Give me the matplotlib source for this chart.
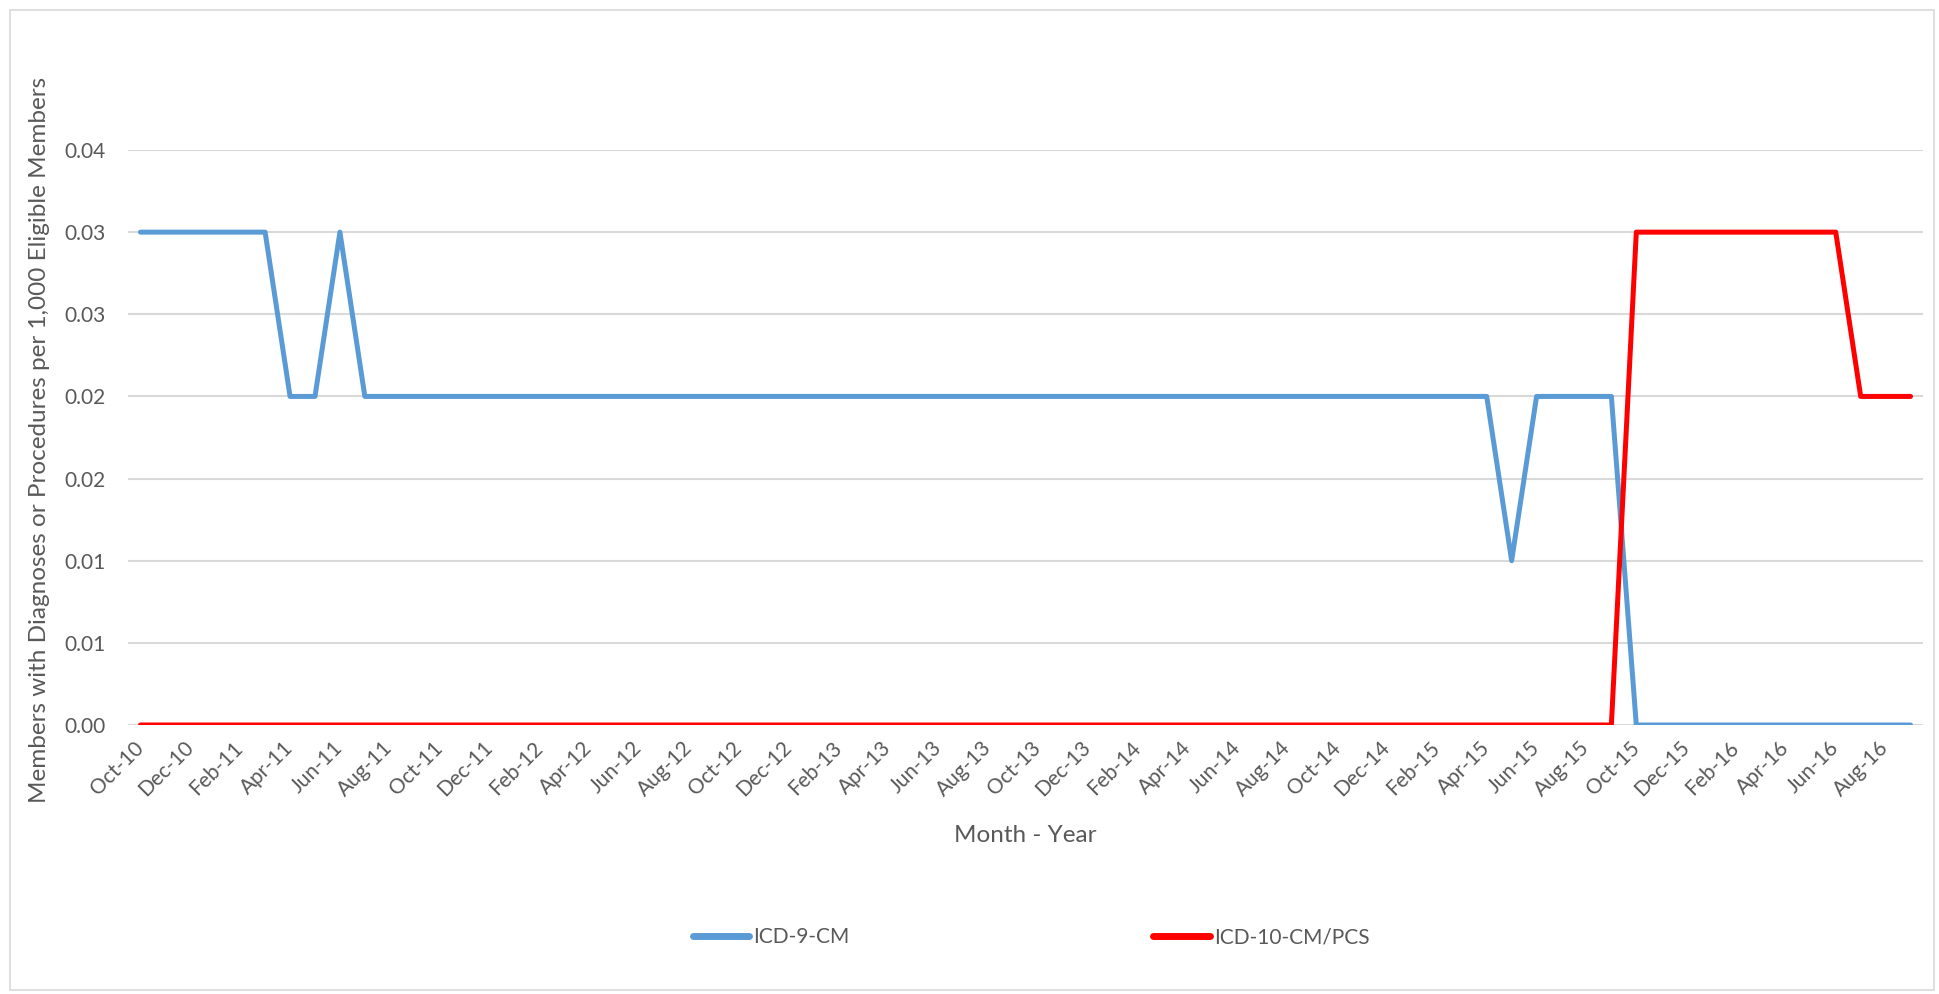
import numpy as np
import pandas as pd
import matplotlib
matplotlib.use('Agg')
import matplotlib.pyplot as plt
from matplotlib.patches import Rectangle

# monthly values, Oct-10 .. Sep-16 (one row per 12 months)
icd9 = [0.03, 0.03, 0.03, 0.03, 0.03, 0.03, 0.02, 0.02, 0.03, 0.02, 0.02, 0.02,
        0.02, 0.02, 0.02, 0.02, 0.02, 0.02, 0.02, 0.02, 0.02, 0.02, 0.02, 0.02,
        0.02, 0.02, 0.02, 0.02, 0.02, 0.02, 0.02, 0.02, 0.02, 0.02, 0.02, 0.02,
        0.02, 0.02, 0.02, 0.02, 0.02, 0.02, 0.02, 0.02, 0.02, 0.02, 0.02, 0.02,
        0.02, 0.02, 0.02, 0.02, 0.02, 0.02, 0.02, 0.01, 0.02, 0.02, 0.02, 0.02,
        0.00, 0.00, 0.00, 0.00, 0.00, 0.00, 0.00, 0.00, 0.00, 0.00, 0.00, 0.00]
icd10 = [0.00, 0.00, 0.00, 0.00, 0.00, 0.00, 0.00, 0.00, 0.00, 0.00, 0.00, 0.00,
         0.00, 0.00, 0.00, 0.00, 0.00, 0.00, 0.00, 0.00, 0.00, 0.00, 0.00, 0.00,
         0.00, 0.00, 0.00, 0.00, 0.00, 0.00, 0.00, 0.00, 0.00, 0.00, 0.00, 0.00,
         0.00, 0.00, 0.00, 0.00, 0.00, 0.00, 0.00, 0.00, 0.00, 0.00, 0.00, 0.00,
         0.00, 0.00, 0.00, 0.00, 0.00, 0.00, 0.00, 0.00, 0.00, 0.00, 0.00, 0.00,
         0.03, 0.03, 0.03, 0.03, 0.03, 0.03, 0.03, 0.03, 0.03, 0.02, 0.02, 0.02]
months = pd.date_range('2010-10-01', periods=72, freq='MS').strftime('%b-%y').tolist()
ytick_vals = [0.0, 0.005, 0.01, 0.015, 0.02, 0.025, 0.03, 0.035]
ytick_labels = ['0.00', '0.01', '0.01', '0.02', '0.02', '0.03', '0.03', '0.04']

grey = '#595959'
plt.rcParams['font.family'] = ['Lato', 'DejaVu Sans']

fig = plt.figure(figsize=(19.4, 9.94), dpi=100)
ax = fig.add_axes([128/1940, 1-725/994, (1923-128)/1940, (725-150)/994])

x = np.arange(len(months))
ax.plot(x, icd9, color='#5b9bd5', lw=3.6, solid_capstyle='round', solid_joinstyle='round', label='ICD-9-CM', zorder=3)
ax.plot(x, icd10, color='#ff0000', lw=3.6, solid_capstyle='round', solid_joinstyle='round', label='ICD-10-CM/PCS', zorder=3)

ax.set_xlim(-0.5, len(months) - 0.5)
ax.set_ylim(0, 0.035)
ax.set_yticks(ytick_vals)
ax.set_yticklabels(ytick_labels)
ax.set_xticks(x[::2])
ax.set_xticklabels(months[::2], rotation=45, ha='right', va='center', rotation_mode='anchor')
ax.tick_params(axis='both', length=0, labelsize=15, labelcolor=grey)
ax.tick_params(axis='y', pad=16)
ax.tick_params(axis='x', pad=14)
ax.grid(axis='y', color='#d9d9d9', lw=1.5)
ax.set_axisbelow(True)
for s in ax.spines.values():
    s.set_visible(False)

fig.text(40/1940, 1-440/994, 'Members with Diagnoses or Procedures per 1,000 Eligible Members',
         rotation=90, ha='center', va='center', fontsize=17.5, color=grey)
fig.text(1025/1940, 1-836/994, 'Month - Year', ha='center', va='center', fontsize=17.5, color=grey)

leg = fig.legend(loc='center', bbox_to_anchor=(1031/1940, 1-937/994), ncol=2, frameon=False,
                 fontsize=15, labelcolor=grey, columnspacing=14.6, handlelength=2.7, handletextpad=0.2)
for h in leg.get_lines():
    h.set_linewidth(5)

fig.patches.append(Rectangle((10/1940, 4/994), 1924/1940, 980/994, transform=fig.transFigure,
                             fill=False, edgecolor='#d9d9d9', lw=1.2))

fig.savefig('out.png', dpi=100)
